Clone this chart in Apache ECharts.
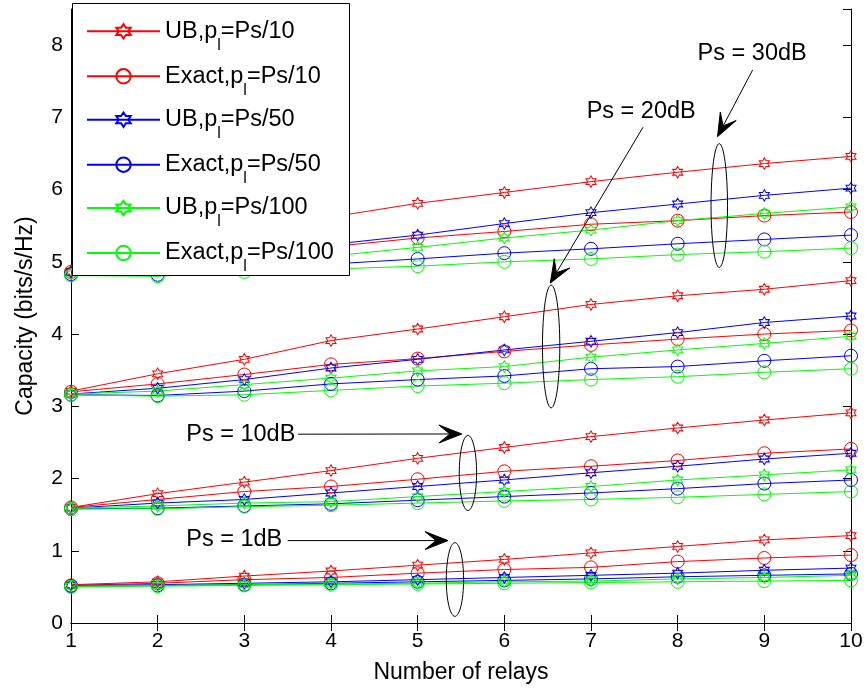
<!DOCTYPE html>
<html>
<head>
<meta charset="utf-8">
<script src="https://cdn.jsdelivr.net/npm/echarts@6/dist/echarts.min.js"></script>
<style>
  html, body { margin: 0; padding: 0; background: #fff; }
  #chart { width: 867px; height: 689px; }
</style>
</head>
<body>
<div id="chart"></div>
<script>
// Number of relays on the x axis
const relays = [1, 2, 3, 4, 5, 6, 7, 8, 9, 10];
const yTicks = [0, 1, 2, 3, 4, 5, 6, 7, 8];

// Capacity (bits/s/Hz): upper bound (UB) and exact, for three relay power levels,
// at four source powers Ps = 1, 10, 20, 30 dB
const ub10_1dB   = [0.53, 0.57, 0.65, 0.72, 0.80, 0.88, 0.97, 1.06, 1.15, 1.21];
const ex10_1dB   = [0.52, 0.55, 0.60, 0.63, 0.69, 0.74, 0.77, 0.85, 0.90, 0.94];
const ub50_1dB   = [0.52, 0.53, 0.55, 0.57, 0.60, 0.63, 0.66, 0.69, 0.73, 0.76];
const ex50_1dB   = [0.51, 0.52, 0.53, 0.55, 0.57, 0.59, 0.61, 0.64, 0.66, 0.68];
const ub100_1dB  = [0.51, 0.52, 0.53, 0.54, 0.55, 0.57, 0.58, 0.61, 0.63, 0.66];
const ex100_1dB  = [0.50, 0.51, 0.52, 0.53, 0.54, 0.55, 0.56, 0.57, 0.58, 0.59];

const ub10_10dB  = [1.60, 1.79, 1.95, 2.11, 2.28, 2.43, 2.58, 2.70, 2.81, 2.91];
const ex10_10dB  = [1.60, 1.71, 1.82, 1.89, 1.99, 2.10, 2.17, 2.25, 2.35, 2.41];
const ub50_10dB  = [1.59, 1.66, 1.71, 1.80, 1.89, 1.98, 2.08, 2.17, 2.27, 2.35];
const ex50_10dB  = [1.58, 1.59, 1.62, 1.65, 1.70, 1.75, 1.80, 1.86, 1.93, 1.98];
const ub100_10dB = [1.59, 1.62, 1.66, 1.68, 1.75, 1.82, 1.89, 1.98, 2.05, 2.12];
const ex100_10dB = [1.58, 1.58, 1.61, 1.63, 1.66, 1.69, 1.71, 1.74, 1.78, 1.82];

const ub10_20dB  = [3.21, 3.45, 3.65, 3.91, 4.07, 4.24, 4.41, 4.53, 4.62, 4.74];
const ex10_20dB  = [3.20, 3.31, 3.44, 3.58, 3.66, 3.76, 3.85, 3.93, 4.00, 4.05];
const ub50_20dB  = [3.17, 3.25, 3.37, 3.53, 3.65, 3.78, 3.90, 4.02, 4.16, 4.25];
const ex50_20dB  = [3.16, 3.15, 3.21, 3.31, 3.37, 3.42, 3.52, 3.55, 3.63, 3.70];
const ub100_20dB = [3.17, 3.21, 3.30, 3.39, 3.49, 3.55, 3.68, 3.78, 3.87, 3.97];
const ex100_20dB = [3.16, 3.14, 3.16, 3.22, 3.28, 3.32, 3.37, 3.41, 3.47, 3.52];

const ub10_30dB  = [4.87, 5.18, 5.42, 5.62, 5.81, 5.96, 6.11, 6.24, 6.36, 6.46];
const ex10_30dB  = [4.86, 4.98, 5.10, 5.21, 5.33, 5.42, 5.52, 5.57, 5.64, 5.69];
const ub50_30dB  = [4.85, 4.98, 5.11, 5.24, 5.37, 5.53, 5.68, 5.80, 5.92, 6.02];
const ex50_30dB  = [4.83, 4.82, 4.90, 4.97, 5.04, 5.12, 5.18, 5.25, 5.31, 5.37];
const ub100_30dB = [4.83, 4.90, 4.98, 5.08, 5.20, 5.33, 5.44, 5.57, 5.67, 5.76];
const ex100_30dB = [4.81, 4.80, 4.86, 4.90, 4.94, 5.00, 5.04, 5.10, 5.14, 5.19];

// Legend names (the "l" after p is drawn as a subscript)
const names = ['UB,pl=Ps/10', 'Exact,pl=Ps/10', 'UB,pl=Ps/50', 'Exact,pl=Ps/50', 'UB,pl=Ps/100', 'Exact,pl=Ps/100'];

// Annotations in data coordinates: label, arrow start/tip, ellipse centre and half sizes
const notes = [
  { text: 'Ps = 1dB',  textAt: [2.33, 1.155], from: [3.50, 1.141], tip: [5.35, 1.141], center: [5.43, 0.602], half: [0.10, 0.51] },
  { text: 'Ps = 10dB', textAt: [2.33, 2.607], from: [3.62, 2.614], tip: [5.51, 2.617], center: [5.58, 2.077], half: [0.10, 0.52] },
  { text: 'Ps = 20dB', textAt: [6.95, 7.079], from: [7.60, 6.863], tip: [6.53, 4.705], center: [6.54, 3.828], half: [0.10, 0.85] },
  { text: 'Ps = 30dB', textAt: [8.23, 7.886], from: [8.865, 7.656], tip: [8.46, 6.733], center: [8.48, 5.779], half: [0.095, 0.857] }
];

const FONT = 'Liberation Sans, Arial, Helvetica, sans-serif';
const RED = '#ff0000', BLUE = '#0000ff', GREEN = '#00ff00';
const HEXAGRAM = 'path://M50 0 L64.4 25 L93.3 25 L78.9 50 L93.3 75 L64.4 75 L50 100 L35.6 75 L6.7 75 L21.1 50 L6.7 25 L35.6 25 Z';

const styles = [
  { name: names[0], color: RED,   star: true },
  { name: names[1], color: RED,   star: false },
  { name: names[2], color: BLUE,  star: true },
  { name: names[3], color: BLUE,  star: false },
  { name: names[4], color: GREEN, star: true },
  { name: names[5], color: GREEN, star: false }
];

const groups = [
  [ub10_1dB,  ex10_1dB,  ub50_1dB,  ex50_1dB,  ub100_1dB,  ex100_1dB],
  [ub10_10dB, ex10_10dB, ub50_10dB, ex50_10dB, ub100_10dB, ex100_10dB],
  [ub10_20dB, ex10_20dB, ub50_20dB, ex50_20dB, ub100_20dB, ex100_20dB],
  [ub10_30dB, ex10_30dB, ub50_30dB, ex50_30dB, ub100_30dB, ex100_30dB]
];

const series = [];
groups.forEach(function (g) {
  g.forEach(function (vals, i) {
    const s = styles[i];
    series.push({
      type: 'line',
      name: s.name,
      data: relays.map(function (r, k) { return [r, vals[k]]; }),
      symbol: s.star ? HEXAGRAM : 'circle',
      symbolSize: s.star ? [10, 11.5] : 13,
      showAllSymbol: true,
      lineStyle: { color: s.color, width: 1 },
      itemStyle: { color: 'rgba(0,0,0,0)', borderColor: s.color, borderWidth: 1 },
      emphasis: { disabled: true },
      z: 2
    });
  });
});

// One legend row per entry, so each row sits at its own height inside the framed box
const legendRowCenters = [28.3, 73.3, 116.7, 161.7, 205, 250];
const legends = names.map(function (n, i) {
  return {
    data: [n],
    orient: 'vertical',
    left: 86,
    top: legendRowCenters[i] - 9,
    padding: 0,
    itemWidth: 73,
    itemHeight: 18,
    selectedMode: false,
    z: 6,
    textStyle: {
      fontFamily: FONT, fontSize: 23.5, color: '#000',
      rich: { sub: { fontFamily: FONT, fontSize: 16, color: '#000', padding: [28, 0, 0, 0] } }
    },
    formatter: function (s) { return s.replace('pl', 'p{sub|l}'); }
  };
});

const chart = echarts.init(document.getElementById('chart'), null, { renderer: 'canvas' });

const tickStyle = { show: true, inside: true, length: 8, lineStyle: { color: '#000', width: 1 } };
const lineBlack = { show: true, lineStyle: { color: '#000', width: 1 } };

chart.setOption({
  animation: false,
  backgroundColor: '#fff',
  textStyle: { fontFamily: FONT },
  grid: { left: 71, right: 16, top: 9, bottom: 65, containLabel: false },
  legend: legends,
  xAxis: [
    {
      type: 'value', min: 1, max: 10, interval: 1, position: 'bottom',
      name: 'Number of relays', nameLocation: 'middle', nameGap: 38,
      nameTextStyle: { fontFamily: FONT, fontSize: 23, color: '#000' },
      axisLine: lineBlack, axisTick: tickStyle,
      axisLabel: { fontFamily: FONT, fontSize: 21, color: '#000', margin: 8 },
      splitLine: { show: false }
    },
    {
      type: 'value', min: 1, max: 10, interval: 1, position: 'top',
      axisLine: lineBlack, axisTick: tickStyle, axisLabel: { show: false }, splitLine: { show: false }
    }
  ],
  yAxis: [
    {
      type: 'value', min: 0, max: 8.5, interval: 1, position: 'left',
      name: 'Capacity (bits/s/Hz)', nameLocation: 'middle', nameGap: 34,
      nameTextStyle: { fontFamily: FONT, fontSize: 23, color: '#000' },
      axisLine: lineBlack, axisTick: tickStyle,
      axisLabel: {
        fontFamily: FONT, fontSize: 21, color: '#000', margin: 8, showMaxLabel: false,
        formatter: function (v) { return yTicks.indexOf(v) >= 0 ? String(v) : ''; }
      },
      splitLine: { show: false }
    },
    {
      type: 'value', min: 0, max: 8.5, interval: 1, position: 'right',
      axisLine: lineBlack, axisTick: tickStyle, axisLabel: { show: false }, splitLine: { show: false }
    }
  ],
  series: series
});

// Annotation arrows, ellipses and labels, placed through the axes' own scales
function px(p) { return chart.convertToPixel({ gridIndex: 0 }, p); }

const graphics = [
  // legend frame, drawn above the curves and below the legend rows
  { type: 'rect', z: 4, shape: { x: 72.5, y: 3.5, width: 277, height: 272 },
    style: { fill: '#fff', stroke: '#000', lineWidth: 1 } }
];
notes.forEach(function (n) {
  const c = px(n.center);
  const edge = px([n.center[0] + n.half[0], n.center[1] + n.half[1]]);
  graphics.push({
    type: 'ellipse', z: 10,
    shape: { cx: c[0], cy: c[1], rx: Math.abs(edge[0] - c[0]), ry: Math.abs(edge[1] - c[1]) },
    style: { fill: 'none', stroke: '#000', lineWidth: 1 }
  });
  const a = px(n.from), t = px(n.tip);
  const dx = t[0] - a[0], dy = t[1] - a[1];
  const len = Math.sqrt(dx * dx + dy * dy);
  const ux = dx / len, uy = dy / len, nx = -uy, ny = ux;
  const L = 23, W = 9, notch = 12;
  graphics.push({
    type: 'line', z: 10,
    shape: { x1: a[0], y1: a[1], x2: t[0] - ux * notch, y2: t[1] - uy * notch },
    style: { stroke: '#000', lineWidth: 1 }
  });
  graphics.push({
    type: 'polygon', z: 10,
    shape: { points: [
      [t[0], t[1]],
      [t[0] - ux * L + nx * W, t[1] - uy * L + ny * W],
      [t[0] - ux * notch, t[1] - uy * notch],
      [t[0] - ux * L - nx * W, t[1] - uy * L - ny * W]
    ] },
    style: { fill: '#000', stroke: '#000', lineWidth: 1 }
  });
  const tp = px(n.textAt);
  graphics.push({
    type: 'text', z: 10,
    style: { text: n.text, x: tp[0], y: tp[1], fontSize: 23.5, fontFamily: FONT, fill: '#000', align: 'left', verticalAlign: 'middle' }
  });
});

chart.setOption({ graphic: graphics });
</script>
</body>
</html>
